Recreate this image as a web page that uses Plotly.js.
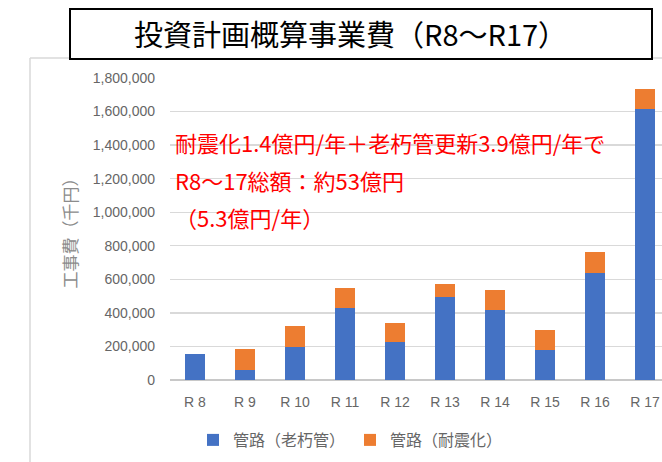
<!DOCTYPE html>
<html>
<head>
<meta charset="utf-8">
<script src="https://cdn.plot.ly/plotly-3.0.1.min.js"></script>
<style>html,body{margin:0;padding:0;background:#fff;}#chart{width:662px;height:462px;}</style>
</head>
<body>
<div id="chart"></div>
<script>
const categories = ["R 8","R 9","R 10","R 11","R 12","R 13","R 14","R 15","R 16","R 17"];
const rouKyuKan = [153000, 61000, 197000, 430000, 225000, 496000, 420000, 177000, 637000, 1614000];
const taiShinKa = [0, 124000, 125000, 119000, 113000, 77000, 119000, 123000, 125000, 123000];
const seriesNames = ["管路（老朽管）", "管路（耐震化）"];
const yTicks = [0,200000,400000,600000,800000,1000000,1200000,1400000,1600000,1800000];
const chartTitle = "投資計画概算事業費（R8～R17）";
const yTitle = "工事費（千円）";
const notes = ["耐震化1.4億円/年＋老朽管更新3.9億円/年で", "R8～17総額：約53億円", "（5.3億円/年）"];

const L = 170, R = 662, T = 78, B = 380;
const W = R - L, H = B - T;
const px = x => (x - L) / W;
const py = y => (B - y) / H;

const jp = '"Noto Sans CJK JP", "Noto Sans", sans-serif';

const traces = [
  {type:'bar', x:categories, y:rouKyuKan, name:seriesNames[0], marker:{color:'#4472C4'}},
  {type:'bar', x:categories, y:taiShinKa, name:seriesNames[1], marker:{color:'#ED7D31'}}
];

const annotations = [
  {text:chartTitle, xref:'paper', yref:'paper', x:px(350), y:py(33), xanchor:'center', yanchor:'middle', showarrow:false, font:{family:jp, size:29, color:'#000'}},
  {text:notes[0], xref:'paper', yref:'paper', x:px(173), y:py(142), xanchor:'left', yanchor:'middle', showarrow:false, font:{family:jp, size:22, color:'#FF0000'}},
  {text:notes[1], xref:'paper', yref:'paper', x:px(173), y:py(180), xanchor:'left', yanchor:'middle', showarrow:false, font:{family:jp, size:22, color:'#FF0000'}},
  {text:notes[2], xref:'paper', yref:'paper', x:px(173), y:py(217), xanchor:'left', yanchor:'middle', showarrow:false, font:{family:jp, size:22, color:'#FF0000'}}
];

const shapes = [
  {type:'line', xref:'paper', yref:'paper', x0:px(30), x1:px(30), y0:py(58), y1:py(470), line:{color:'#d9d9d9', width:1.5}},
  {type:'line', xref:'paper', yref:'paper', x0:px(30), x1:px(670), y0:py(58), y1:py(58), line:{color:'#d9d9d9', width:1.5}},
  {type:'rect', xref:'paper', yref:'paper', x0:px(70), x1:px(652), y0:py(59), y1:py(9), line:{color:'#000', width:2}, fillcolor:'#fff', layer:'above'}
];

const layout = {
  width:662, height:462,
  margin:{l:L, r:662-R, t:T, b:462-B, pad:0},
  paper_bgcolor:'#fff', plot_bgcolor:'#fff',
  barmode:'stack', bargap:0.6,
  showlegend:true,
  legend:{orientation:'h', traceorder:'normal', x:px(193), y:py(440), xanchor:'left', yanchor:'middle', font:{family:jp, size:16, color:'#666'}, itemwidth:30, bgcolor:'rgba(0,0,0,0)'},
  xaxis:{type:'category', range:[-0.5, 9.34], showgrid:false, showline:false, zeroline:false, ticks:'', ticklabelstandoff:12,
         tickfont:{family:'"Liberation Sans", Arial, sans-serif', size:14, color:'#666'}},
  yaxis:{range:[0,1800000], tickvals:yTicks, tickformat:',d', showgrid:true, gridcolor:'#d9d9d9', gridwidth:1.3,
         zeroline:true, zerolinecolor:'#c8c8c8', zerolinewidth:1.3, showline:false, ticks:'', ticklabelstandoff:14,
         tickfont:{family:'"Liberation Sans", Arial, sans-serif', size:14, color:'#666'},
         title:{text:yTitle, standoff:10, font:{family:jp, size:17, color:'#8c8c8c'}}},
  annotations:annotations,
  shapes:shapes
};

Plotly.newPlot('chart', traces, layout, {displayModeBar:false, staticPlot:true});
</script>
</body>
</html>
